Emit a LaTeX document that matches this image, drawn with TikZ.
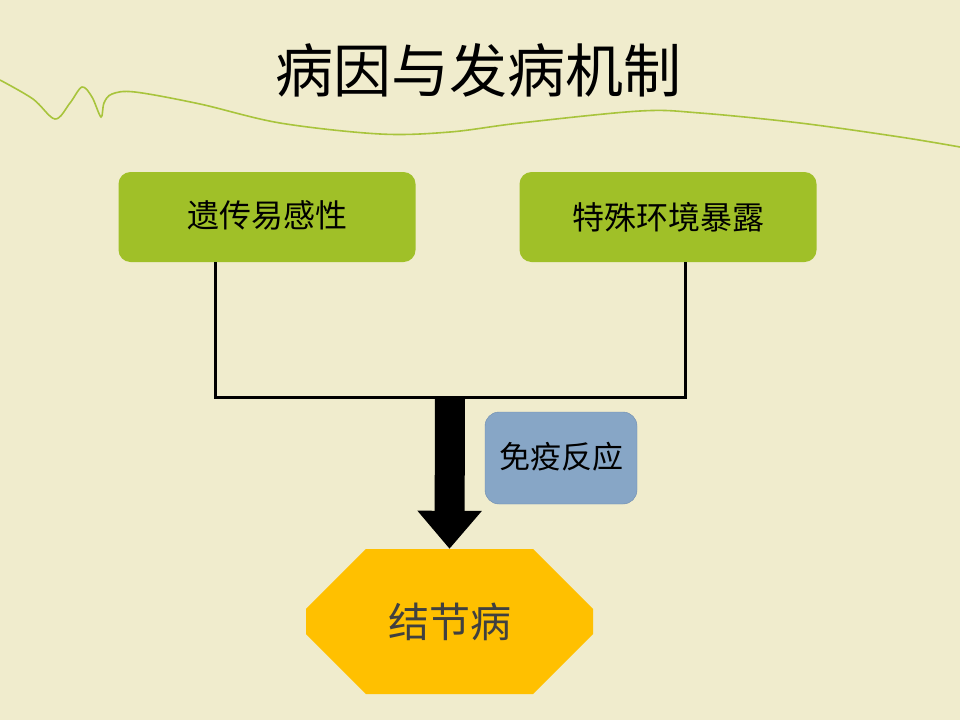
\documentclass[tikz,border=0pt]{standalone}
\usepackage{fontspec}
\setmainfont{Noto Sans CJK SC}
\usetikzlibrary{shapes,shapes.misc,arrows.meta,positioning,calc}
\definecolor{slidebg}{RGB}{240,236,205}
\definecolor{causegreen}{RGB}{160,192,40}
\definecolor{wavegreen}{RGB}{168,196,60}
\definecolor{immuneblue}{RGB}{135,166,198}
\definecolor{immuneedge}{RGB}{110,140,175}
\definecolor{diseaseorange}{RGB}{255,192,0}
\definecolor{disesetext}{RGB}{64,64,64}

\begin{document}
\begin{tikzpicture}[
    x=1pt, y=-1pt,
    cause/.style={rectangle, rounded corners=12pt, fill=causegreen, minimum width=297pt, minimum height=90pt, inner sep=0pt, font=\fontsize{32}{37}\selectfont},
    immune/.style={rectangle, rounded corners=14pt, fill=immuneblue, draw=immuneedge, thin, minimum width=152pt, minimum height=92pt, inner sep=0pt, font=\fontsize{31}{36}\selectfont},
    disease/.style={chamfered rectangle, chamfered rectangle xsep=43pt, chamfered rectangle ysep=41pt, fill=diseaseorange, minimum width=287pt, minimum height=145pt, inner sep=0pt, text=disesetext, font=\fontsize{41}{47}\selectfont},
    link/.style={line width=3pt},
    fatarrow/.style={line width=30pt, -{Triangle[width=62pt,length=38pt]}},
    title/.style={font=\fontsize{58}{66}\selectfont}
]

% Background
\fill[slidebg] (0,0) rectangle (960,720);
\useasboundingbox (0,0) rectangle (960,720);

% Decorative wave
\draw[wavegreen, line width=1.6pt] plot[smooth, tension=0.55] coordinates {
    (0,80) (33,99) (55,119) (70,103) (82,87) (92,97) (101,117) (104,103)
    (112,94) (135,92) (200,104) (280,123) (380,134) (450,132) (520,123)
    (640,111) (700,113) (800,123) (900,137) (960,147)};

% Title
\node[title] (title) at (478,70) {病因与发病机制};

% Causes
\node[cause] (gene) at (267,217) {\raisebox{6pt}{遗传易感性}};
\node[cause] (env) at (668,217) {特殊环境暴露};

% Joining lines
\coordinate (join) at (450,397);
\draw[link] (gene.south -| 215,0) |- (join) -| (env.south -| 685,0);

% Immune response
\node[immune] (immune) at (561,458) {\raisebox{6pt}{免疫反应}};

% Disease
\node[disease] (sarcoid) at (449.5,621.5) {结节病};

% Big arrow
\draw[fatarrow] (join) -- (sarcoid.north);

\end{tikzpicture}
\end{document}
